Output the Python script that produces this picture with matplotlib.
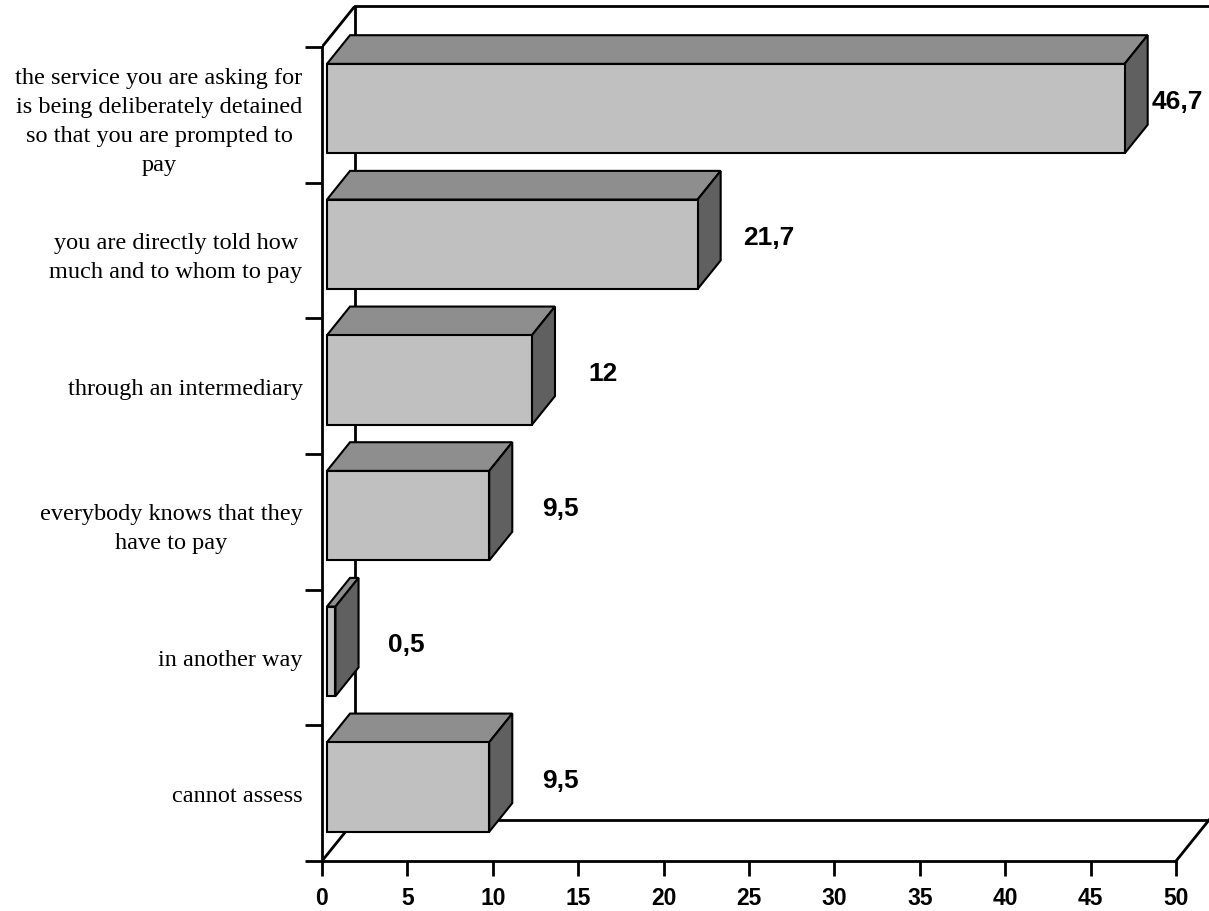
import matplotlib.pyplot as plt
from matplotlib.patches import Polygon

# Data
categories = [
    "the service you are asking for\nis being deliberately detained\nso that you are prompted to\npay",
    "you are directly told how\nmuch and to whom to pay",
    "through an intermediary",
    "everybody knows that they\nhave to pay",
    "in another way",
    "cannot assess",
]
values = [46.7, 21.7, 12, 9.5, 0.5, 9.5]
xticks = list(range(0, 55, 5))

# 3D look (in data units)
xmax = 50
dx, dy = 1.93, -0.302      # depth of the whole "box"
f0, f1 = 0.15, 0.85        # bar depth span (fraction of box depth)
bar_h = 0.66
front_c, top_c, side_c = '#c0c0c0', '#8e8e8e', '#606060'

fig = plt.figure(figsize=(12.09, 9.12), dpi=100)
ax = fig.add_axes([322 / 1209, 50 / 912, 887 / 1209, 855 / 912])
ax.set_xlim(0, xmax + dx)
ax.set_ylim(len(values) - 0.5, -0.5 + dy)

# walls / floor
lw_ax = 2.0
n = len(values)
ax.plot([dx, xmax + dx], [-0.5 + dy] * 2, color='black', lw=lw_ax, zorder=1, clip_on=False)
ax.plot([dx, dx], [-0.5 + dy, n - 0.5 + dy], color='black', lw=lw_ax, zorder=1)
ax.plot([0, dx], [-0.5, -0.5 + dy], color='black', lw=lw_ax, zorder=1)
ax.plot([0, dx], [n - 0.5, n - 0.5 + dy], color='black', lw=lw_ax, zorder=1)
ax.plot([dx, xmax + dx], [n - 0.5 + dy] * 2, color='black', lw=lw_ax, zorder=1, clip_on=False)
ax.plot([xmax, xmax + dx], [n - 0.5, n - 0.5 + dy], color='black', lw=lw_ax, zorder=1, clip_on=False)

# bars
ddx, ddy = (f1 - f0) * dx, (f1 - f0) * dy
for i, v in enumerate(values):
    x0 = f0 * dx
    x1 = v + f0 * dx
    yt = i - bar_h / 2 + f0 * dy
    yb = i + bar_h / 2 + f0 * dy
    front = Polygon([(x0, yt), (x1, yt), (x1, yb), (x0, yb)], closed=True,
                    fc=front_c, ec='black', lw=1.5, zorder=3, joinstyle='miter')
    top = Polygon([(x0, yt), (x1, yt), (x1 + ddx, yt + ddy), (x0 + ddx, yt + ddy)], closed=True,
                  fc=top_c, ec='black', lw=1.5, zorder=3, joinstyle='miter')
    side = Polygon([(x1, yt), (x1 + ddx, yt + ddy), (x1 + ddx, yb + ddy), (x1, yb)], closed=True,
                   fc=side_c, ec='black', lw=1.5, zorder=3, joinstyle='miter')
    for p in (top, side, front):
        ax.add_patch(p)
    # value label to the right of the bar (kept inside the figure)
    lx = min(v + 4.45, 50.1)
    ax.text(lx, i - 0.1, f"{v:g}".replace('.', ','), ha='center', va='center',
            fontsize=19, fontweight='bold', family='Liberation Sans', zorder=4)

# axes
for s in ('top', 'right'):
    ax.spines[s].set_visible(False)
ax.spines['bottom'].set_bounds(0, xmax)
ax.spines['left'].set_bounds(-0.5, n - 0.5)
ax.spines['bottom'].set_linewidth(lw_ax)
ax.spines['left'].set_linewidth(lw_ax)
ax.spines['bottom'].set_zorder(2)
ax.spines['left'].set_zorder(2)

ax.set_xticks(xticks)
ax.set_xticklabels([str(t) for t in xticks], fontsize=16.5, fontweight='bold',
                   family='Liberation Sans')
ax.tick_params(axis='x', direction='out', length=11, width=lw_ax, pad=7)

ax.set_yticks([k - 0.5 for k in range(n + 1)])
ax.set_yticklabels([])
ax.tick_params(axis='y', which='major', direction='out', length=12, width=lw_ax)
ax.set_yticks(range(n), minor=True)
ax.set_yticklabels(categories, minor=True, fontsize=17.5, family='Liberation Serif',
                   multialignment='center', linespacing=1.5)
ax.tick_params(axis='y', which='minor', length=0, pad=14)

fig.savefig('out.png', dpi=100)
